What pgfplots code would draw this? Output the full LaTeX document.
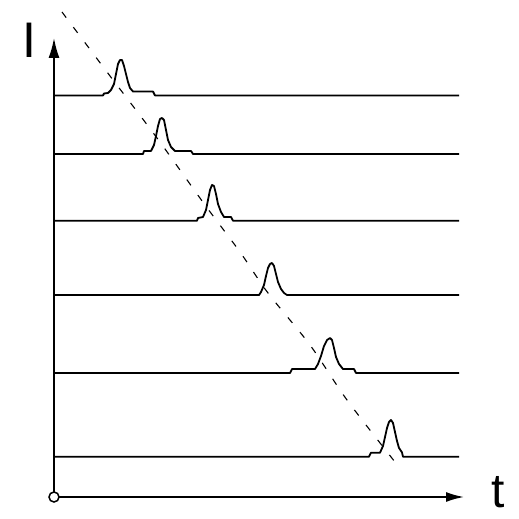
\documentclass[border=0pt]{standalone}
\usepackage{pgfplots}
\pgfplotsset{compat=1.18}
\usetikzlibrary{arrows.meta}
\usepackage{fontspec}
\setmainfont{Liberation Sans}
\begin{document}
\begin{tikzpicture}
\begin{axis}[
  width=519pt, height=519pt, scale only axis,
  xmin=0, xmax=519, ymin=0, ymax=519, y dir=reverse,
  hide axis, clip=false,
]
\addplot[draw=none] coordinates {(0,0) (519,519)};
% axes
\addplot[line width=1.8pt, -{Latex[length=20pt,width=11pt]}] coordinates {(54,493) (54,38)};
\addplot[line width=1.8pt, -{Latex[length=18pt,width=10pt]}] coordinates {(59,497) (464,497)};
\addplot[only marks, mark=o, mark size=5pt, mark options={line width=1.5pt, fill=white}] coordinates {(54,497)};
% traces
\addplot[line width=1.8pt, line join=round] coordinates {
(54,95.5)(103,95.5)(104,93.5)(108,93)(111,90)(114,84)(116,74)(118,64)(120,60)(122,60)(124,66)(126,74)(128,82)(130,88)(133,91.5)(153,91.5)(155,95.5)(459,95.5)};
\addplot[line width=1.8pt, line join=round] coordinates {
(54,154)(143,154)(144,151)(151,151)(154,145)(156,136)(158,126)(160,119)(162,118)(164,120)(166,130)(168,140)(171,147)(175,151)(191,151)(193,154)(459,154)};
\addplot[line width=1.8pt, line join=round] coordinates {
(54,220.7)(197,220.7)(198,218)(203,217)(206,210)(208,200)(210,190)(212,185)(214,186)(216,194)(218,204)(221,212)(224,217)(231,217)(233,220.7)(459,220.7)};
\addplot[line width=1.8pt, line join=round] coordinates {
(54,295)(259,295)(261,292)(264,285)(266,276)(268,268)(270,264)(272,263)(274,266)(276,274)(278,282)(281,289)(284,293)(287,295)(459,295)};
\addplot[line width=1.8pt, line join=round] coordinates {
(54,373)(290,373)(292,369)(315,369)(318,364)(321,356)(324,346)(327,340)(330,338)(332,340)(334,348)(336,357)(339,364)(343,369)(354,369)(356,373)(459,373)};
\addplot[line width=1.8pt, line join=round] coordinates {
(54,456.7)(369,456.7)(371,452.7)(380,452.7)(383,446)(385,437)(387,428)(389,422)(391,420)(393,423)(395,432)(397,441)(399,448)(402,452.5)(403,456.7)(459,456.7)};
% dashed trend
\addplot[line width=1.1pt, dash pattern=on 7pt off 12pt, smooth] coordinates {
(62,12)(107,72)(157,138)(205,205)(240,252)(268,293)(310,345)(347,400)(395,462)};
\node[inner sep=0pt] at (axis cs:29.5,40) {\fontsize{50}{50}\selectfont I};
\node[inner sep=0pt] at (axis cs:498.5,492) {\fontsize{48}{48}\selectfont t};
\end{axis}
\end{tikzpicture}
\end{document}
